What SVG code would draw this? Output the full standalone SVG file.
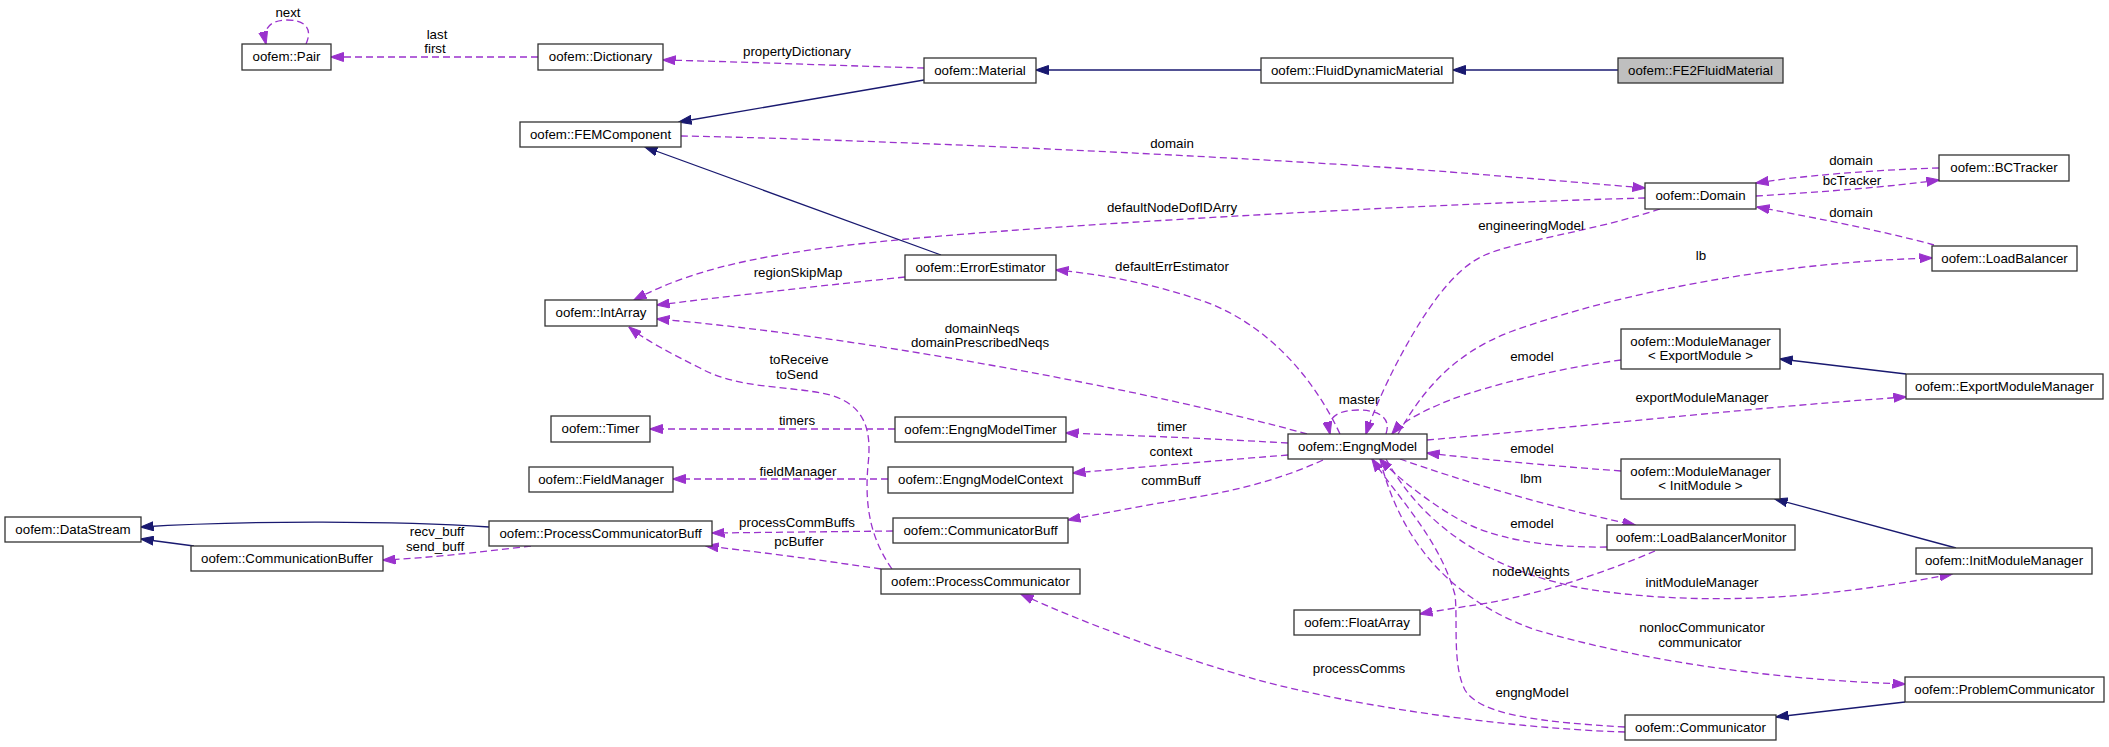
<svg xmlns="http://www.w3.org/2000/svg" width="2109" height="747" viewBox="0 0 2109 747">
<style>
.n rect{fill:#fff;stroke:#333;stroke-width:1.3}
.n.hl rect{fill:#bfbfbf}
text{font-family:"Liberation Sans",Arial,Helvetica,sans-serif;font-size:13.3px;fill:#000;text-anchor:middle}
.d{fill:none;stroke:#9a32cd;stroke-width:1.3;stroke-dasharray:7,4;marker-end:url(#ap)}
.s{fill:none;stroke:#191970;stroke-width:1.3;marker-end:url(#ab)}
</style>
<defs>
<marker id="ap" markerUnits="userSpaceOnUse" viewBox="0 0 13 10" markerWidth="13" markerHeight="10" refX="12.5" refY="5" orient="auto"><path d="M0,0.5 L13,5 L0,9.5 z" fill="#9a32cd" stroke="#9a32cd" stroke-width="1"/></marker>
<marker id="ab" markerUnits="userSpaceOnUse" viewBox="0 0 13 10" markerWidth="13" markerHeight="10" refX="12.5" refY="5" orient="auto"><path d="M0,0.5 L13,5 L0,9.5 z" fill="#191970" stroke="#191970" stroke-width="1"/></marker>
</defs>
<rect width="2109" height="747" fill="#fff"/>
<g id="connectors">
<path class="d" d="M306,44 C314,26 302,20 287,20 C272,20 262,27 266,44"/>
<path class="d" d="M538,57 L331,57"/>
<path class="d" d="M924,68 C850,66 750,62 663,60"/>
<path class="s" d="M1261,70 L1036,70"/>
<path class="s" d="M1618,70 L1453,70"/>
<path class="s" d="M924,80 L679,122"/>
<path class="d" d="M681,136 C900,140 1300,160 1450,172 C1550,180 1610,185 1645,188"/>
<path class="d" d="M1645,198 C1450,203 1100,222 930,237 C780,250 700,265 634,300"/>
<path class="d" d="M905,277 Q780,290 657,305"/>
<path class="s" d="M941,255 L645,147"/>
<path class="d" d="M1307,434 C1150,390 850,335 657,319"/>
<path class="d" d="M892,569 C868,535 865,500 868,465 C872,430 865,405 830,395 C790,385 740,390 700,368 C670,353 645,340 629,327"/>
<path class="d" d="M895,429 L650,429"/>
<path class="d" d="M1288,443 C1200,438 1120,435 1066,433"/>
<path class="d" d="M888,479 L673,479"/>
<path class="d" d="M1288,455 C1200,462 1120,469 1073,473"/>
<path class="d" d="M1323,460 C1280,480 1230,492 1190,498 C1140,506 1100,514 1068,520"/>
<path class="d" d="M893,531 L712,533"/>
<path class="d" d="M881,569 C820,560 760,552 706,546"/>
<path class="s" d="M489,527 C400,521 250,520 141,527"/>
<path class="s" d="M194,546 L141,539"/>
<path class="d" d="M531,546 C480,552 430,558 383,560"/>
<path class="d" d="M1625,732 C1500,728 1350,705 1258,680 C1180,658 1080,622 1021,594"/>
<path class="d" d="M1625,727 C1540,722 1480,715 1465,690 C1452,665 1458,620 1455,595 C1440,540 1400,500 1372,459"/>
<path class="d" d="M1340,434 C1310,370 1260,320 1200,300 C1150,283 1100,274 1056,270"/>
<path class="d" d="M1386,434 C1392,416 1376,410 1358,410 C1340,410 1326,416 1330,434"/>
<path class="d" d="M1660,209 C1590,232 1520,240 1485,255 C1450,270 1420,320 1400,357 C1385,385 1372,415 1366,434"/>
<path class="d" d="M1621,360 C1560,368 1490,385 1450,400 C1420,412 1402,422 1392,434"/>
<path class="d" d="M1398,434 C1420,395 1450,355 1510,332 C1620,292 1780,262 1932,258"/>
<path class="d" d="M1427,440 C1600,425 1780,405 1906,397"/>
<path class="s" d="M1906,374 L1780,359"/>
<path class="d" d="M1621,471 C1540,465 1470,458 1427,453"/>
<path class="d" d="M1400,459 C1460,480 1540,505 1635,525"/>
<path class="d" d="M1607,547 C1540,548 1490,537 1460,520 C1430,503 1400,480 1380,459"/>
<path class="d" d="M1386,459 C1420,520 1480,568 1581,588 C1700,608 1830,598 1952,574"/>
<path class="s" d="M1956,548 L1775,499"/>
<path class="d" d="M1655,551 C1600,575 1520,600 1468,606 C1450,609 1435,611 1420,614"/>
<path class="d" d="M1380,459 C1400,540 1450,600 1536,630 C1650,663 1780,680 1905,684"/>
<path class="s" d="M1905,702 L1776,717"/>
<path class="d" d="M1939,168 C1870,170 1800,176 1756,183"/>
<path class="d" d="M1756,196 C1820,192 1890,187 1939,180"/>
<path class="d" d="M1934,245 C1880,230 1800,215 1757,207"/>
<g id="edge-labels">
<text x="288" y="17">next</text>
<text x="437" y="39">last</text>
<text x="435" y="53">first</text>
<text x="797" y="56">propertyDictionary</text>
<text x="1172" y="148">domain</text>
<text x="1172" y="212">defaultNodeDofIDArry</text>
<text x="798" y="277">regionSkipMap</text>
<text x="982" y="333">domainNeqs</text>
<text x="980" y="347">domainPrescribedNeqs</text>
<text x="799" y="364">toReceive</text>
<text x="797" y="379">toSend</text>
<text x="1172" y="271">defaultErrEstimator</text>
<text x="797" y="425">timers</text>
<text x="1172" y="431">timer</text>
<text x="798" y="476">fieldManager</text>
<text x="1171" y="456">context</text>
<text x="1171" y="485">commBuff</text>
<text x="797" y="527">processCommBuffs</text>
<text x="799" y="546">pcBuffer</text>
<text x="437" y="536">recv_buff</text>
<text x="435" y="551">send_buff</text>
<text x="1359" y="673">processComms</text>
<text x="1359" y="404">master</text>
<text x="1531" y="230">engineeringModel</text>
<text x="1851" y="165">domain</text>
<text x="1852" y="185">bcTracker</text>
<text x="1851" y="217">domain</text>
<text x="1701" y="260">lb</text>
<text x="1532" y="361">emodel</text>
<text x="1702" y="402">exportModuleManager</text>
<text x="1532" y="453">emodel</text>
<text x="1531" y="483">lbm</text>
<text x="1532" y="528">emodel</text>
<text x="1531" y="576">nodeWeights</text>
<text x="1702" y="587">initModuleManager</text>
<text x="1702" y="632">nonlocCommunicator</text>
<text x="1700" y="647">communicator</text>
<text x="1532" y="697">engngModel</text>
</g>
</g>
<g id="Pair" class="n"><rect x="242" y="44" width="89" height="26"/><text x="286.5" y="61">oofem::Pair</text></g>
<g id="Dictionary" class="n"><rect x="538" y="44" width="125" height="26"/><text x="600.5" y="61">oofem::Dictionary</text></g>
<g id="Material" class="n"><rect x="924" y="58" width="112" height="25"/><text x="980" y="75">oofem::Material</text></g>
<g id="FluidDynamicMaterial" class="n"><rect x="1261" y="58" width="192" height="25"/><text x="1357" y="75">oofem::FluidDynamicMaterial</text></g>
<g id="FE2FluidMaterial" class="n hl"><rect x="1618" y="58" width="165" height="25"/><text x="1700.5" y="75">oofem::FE2FluidMaterial</text></g>
<g id="FEMComponent" class="n"><rect x="520" y="122" width="161" height="25"/><text x="600.5" y="139">oofem::FEMComponent</text></g>
<g id="Domain" class="n"><rect x="1645" y="183" width="111" height="26"/><text x="1700.5" y="200">oofem::Domain</text></g>
<g id="BCTracker" class="n"><rect x="1939" y="155" width="130" height="26"/><text x="2004" y="172">oofem::BCTracker</text></g>
<g id="LoadBalancer" class="n"><rect x="1932" y="246" width="145" height="25"/><text x="2004.5" y="263">oofem::LoadBalancer</text></g>
<g id="IntArray" class="n"><rect x="545" y="300" width="112" height="26"/><text x="601" y="317">oofem::IntArray</text></g>
<g id="ErrorEstimator" class="n"><rect x="905" y="255" width="151" height="25"/><text x="980.5" y="272">oofem::ErrorEstimator</text></g>
<g id="Timer" class="n"><rect x="551" y="416" width="99" height="26"/><text x="600.5" y="433">oofem::Timer</text></g>
<g id="FieldManager" class="n"><rect x="529" y="467" width="144" height="25"/><text x="601" y="484">oofem::FieldManager</text></g>
<g id="EngngModelTimer" class="n"><rect x="895" y="417" width="171" height="25"/><text x="980.5" y="434">oofem::EngngModelTimer</text></g>
<g id="EngngModelContext" class="n"><rect x="888" y="467" width="185" height="26"/><text x="980.5" y="484">oofem::EngngModelContext</text></g>
<g id="EngngModel" class="n"><rect x="1288" y="434" width="139" height="25"/><text x="1357.5" y="451">oofem::EngngModel</text></g>
<g id="ModuleManagerExport" class="n"><rect x="1621" y="329" width="159" height="40"/><text x="1700.5" y="346">oofem::ModuleManager</text><text x="1700.5" y="360">&lt; ExportModule &gt;</text></g>
<g id="ExportModuleManager" class="n"><rect x="1906" y="374" width="197" height="25"/><text x="2004.5" y="391">oofem::ExportModuleManager</text></g>
<g id="ModuleManagerInit" class="n"><rect x="1621" y="459" width="159" height="40"/><text x="1700.5" y="476">oofem::ModuleManager</text><text x="1700.5" y="490">&lt; InitModule &gt;</text></g>
<g id="LoadBalancerMonitor" class="n"><rect x="1607" y="525" width="188" height="25"/><text x="1701" y="542">oofem::LoadBalancerMonitor</text></g>
<g id="InitModuleManager" class="n"><rect x="1916" y="548" width="176" height="26"/><text x="2004" y="565">oofem::InitModuleManager</text></g>
<g id="DataStream" class="n"><rect x="5" y="517" width="136" height="25"/><text x="73" y="534">oofem::DataStream</text></g>
<g id="CommunicationBuffer" class="n"><rect x="191" y="546" width="192" height="25"/><text x="287" y="563">oofem::CommunicationBuffer</text></g>
<g id="ProcessCommunicatorBuff" class="n"><rect x="489" y="521" width="223" height="25"/><text x="600.5" y="538">oofem::ProcessCommunicatorBuff</text></g>
<g id="CommunicatorBuff" class="n"><rect x="893" y="518" width="175" height="25"/><text x="980.5" y="535">oofem::CommunicatorBuff</text></g>
<g id="ProcessCommunicator" class="n"><rect x="881" y="569" width="199" height="25"/><text x="980.5" y="586">oofem::ProcessCommunicator</text></g>
<g id="FloatArray" class="n"><rect x="1294" y="610" width="126" height="25"/><text x="1357" y="627">oofem::FloatArray</text></g>
<g id="ProblemCommunicator" class="n"><rect x="1905" y="677" width="199" height="25"/><text x="2004.5" y="694">oofem::ProblemCommunicator</text></g>
<g id="Communicator" class="n"><rect x="1625" y="715" width="151" height="25"/><text x="1700.5" y="732">oofem::Communicator</text></g>
</svg>
